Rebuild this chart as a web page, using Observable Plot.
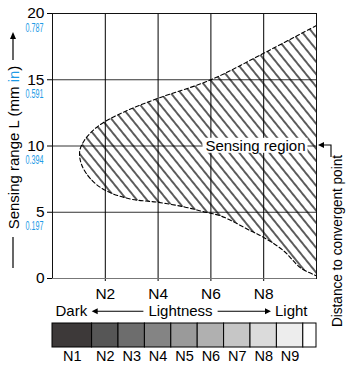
<!DOCTYPE html>
<html>
<head>
<meta charset="utf-8">
<script src="https://cdn.jsdelivr.net/npm/d3@7"></script>
<script src="https://cdn.jsdelivr.net/npm/@observablehq/plot@0.6"></script>
<style>
html, body { margin: 0; padding: 0; background: #fff; }
#chart { position: relative; width: 350px; height: 370px; }
#chart svg { position: absolute; left: 0; }
</style>
</head>
<body>
<div id="chart"></div>
<script>
// ---- data ----
const nLevels = [2, 4, 6, 8];                       // x tick values (Munsell N)
const mmTicks = [0, 5, 10, 15, 20];                  // y tick values (mm)
const inchLabels = ["", "0.197", "0.394", "0.591", "0.787"];
// boundary of the sensing region: upper edge from right to the nose, then lower edge to the right
const edgeN  = [10, 8, 6, 4, 2.85, 1.95, 1.55, 1.2, 1.03, 1.1, 1.45, 2.0, 2.95, 4.0, 5.0, 5.7, 6.4, 7.5, 8.0, 8.75, 9.4, 10];
const edgeMM = [19.1, 17.0, 15.0, 13.6, 12.7, 11.8, 11.2, 10.4, 9.6, 8.6, 7.5, 6.65, 6.0, 5.75, 5.4, 5.05, 4.7, 3.6, 3.1, 2.1, 0.8, 0.2];
// lightness swatches
const swatchNames  = ["N1", "N2", "N3", "N4", "N5", "N6", "N7", "N8", "N9", ""];
const swatchFrom   = [0, 1.5, 2.5, 3.5, 4.5, 5.5, 6.5, 7.5, 8.5, 9.5];
const swatchTo     = [1.5, 2.5, 3.5, 4.5, 5.5, 6.5, 7.5, 8.5, 9.5, 10];
const swatchColors = ["#3d3939", "#565656", "#6d6d6d", "#848484", "#9a9a9a", "#b0b0b0", "#c6c6c6", "#dbdbdb", "#ededed", "#ffffff"];

const region = edgeN.map((n, i) => ({n, mm: edgeMM[i]}));
const inchRows = mmTicks.map((mm, i) => ({mm, inch: inchLabels[i]})).filter(d => d.inch);
const swatches = swatchNames.map((name, i) => ({name, x1: swatchFrom[i], x2: swatchTo[i], color: swatchColors[i], mid: (swatchFrom[i] + swatchTo[i]) / 2}));
const gridMM = mmTicks.filter(t => t > 0 && t < 20);
const annotations = [{label: "Sensing region", mm: 10}];

const FONT = '"Liberation Sans", Arial, Helvetica, sans-serif';
const BLUE = "#1e9be6";

const main = Plot.plot({
  width: 350, height: 370,
  marginLeft: 52, marginRight: 34, marginTop: 13, marginBottom: 92,
  style: {fontFamily: FONT, fontSize: "15px", color: "#000", background: "transparent", overflow: "visible"},
  x: {domain: [0, 10], ticks: nLevels, tickFormat: d => "N" + d, tickSize: 3, tickPadding: 6, label: null},
  y: {domain: [0, 20], ticks: mmTicks, tickSize: 5, tickPadding: 3, label: null},
  marks: [
    Plot.ruleY(gridMM, {stroke: "#333"}),
    Plot.ruleX(nLevels, {stroke: "#000"}),
    Plot.line(region, {x: "n", y: "mm", curve: "catmull-rom", fill: "url(#hatch)", stroke: "none"}),
    Plot.line(region, {x: "n", y: "mm", curve: "catmull-rom", stroke: "#000", strokeWidth: 1.1, strokeDasharray: "4,2.5"}),
    Plot.frame({stroke: "#111"}),
    Plot.ruleY([0], {stroke: "#777"}),
    Plot.text(inchRows, {frameAnchor: "left", y: "mm", text: "inch", dx: -9, dy: 14, textAnchor: "end", lineAnchor: "middle", fill: BLUE, fontSize: 12.5}),
    Plot.text(annotations, {frameAnchor: "right", y: "mm", text: "label", dx: -11, textAnchor: "end", lineAnchor: "middle", fontSize: 15})
  ]
});

const bar = Plot.plot({
  width: 350, height: 70,
  marginLeft: 52, marginRight: 34, marginTop: 23, marginBottom: 23,
  style: {fontFamily: FONT, fontSize: "15px", color: "#000", background: "transparent", overflow: "visible"},
  x: {domain: [0, 10], axis: null},
  y: {domain: [0, 1], axis: null},
  color: {type: "identity"},
  marks: [
    Plot.rect(swatches, {x1: "x1", x2: "x2", y1: 0, y2: 1, fill: "color", stroke: "#000", strokeWidth: 1}),
    Plot.text(swatches.filter(d => d.name), {x: "mid", y: 0, text: "name", dy: 9, lineAnchor: "middle", fontSize: 14.5}),
    Plot.text(["Dark"], {frameAnchor: "top-left", text: d => d, textAnchor: "start", lineAnchor: "middle", dx: 3, dy: -12, fontSize: 15}),
    Plot.text(["Lightness"], {frameAnchor: "top", text: d => d, lineAnchor: "middle", dx: -4, dy: -12, fontSize: 15}),
    Plot.text(["Light"], {frameAnchor: "top-right", text: d => d, textAnchor: "end", lineAnchor: "middle", dx: -9, dy: -12, fontSize: 15})
  ]
});

const root = document.getElementById("chart");
root.append(main);
root.append(bar);
main.style.top = "0px";
bar.style.top = "300px";

const sm = d3.select(main);
// axis tick labels at the reference size
sm.selectAll('g[aria-label*="axis"]').attr("font-size", 15.5);
sm.selectAll('g[aria-label*="axis"] text').attr("font-size", 15.5);

// hatch pattern for the sensing region
const pat = sm.insert("defs", ":first-child").append("pattern")
  .attr("id", "hatch").attr("patternUnits", "userSpaceOnUse")
  .attr("width", 7.8).attr("height", 10).attr("patternTransform", "rotate(-39)");
pat.append("line").attr("x1", 3.9).attr("x2", 3.9).attr("y1", -1).attr("y2", 11)
  .attr("stroke", "#000").attr("stroke-width", 1.25);

function findText(svg, str) {
  return Array.from(svg.querySelectorAll("text")).find(t => t.textContent === str);
}
function rel(svg, el) {
  const a = svg.getBoundingClientRect(), b = el.getBoundingClientRect();
  return {x: b.left - a.left, y: b.top - a.top, w: b.width, h: b.height};
}

// condensed blue inch labels
sm.selectAll("text").filter(function () { return this.textContent && inchLabels.includes(this.textContent); })
  .attr("textLength", 18).attr("lengthAdjust", "spacingAndGlyphs");

// white box behind "Sensing region"
const lab = findText(main, "Sensing region");
if (lab) {
  const bb = rel(main, lab);
  const g = lab.parentNode;
  const r = document.createElementNS("http://www.w3.org/2000/svg", "rect");
  r.setAttribute("x", bb.x - 3);
  r.setAttribute("width", bb.w + 5);
  r.setAttribute("y", bb.y + bb.h / 2 - 7.5);
  r.setAttribute("height", 15);
  r.setAttribute("fill", "#fff");
  g.parentNode.insertBefore(r, g);
}

function arrowHead(sel, tipX, tipY, dir) {
  let pts;
  if (dir === "left") pts = [[tipX, tipY], [tipX + 6, tipY - 3], [tipX + 6, tipY + 3]];
  else if (dir === "right") pts = [[tipX, tipY], [tipX - 6, tipY - 3], [tipX - 6, tipY + 3]];
  else pts = [[tipX, tipY], [tipX - 3, tipY + 7], [tipX + 3, tipY + 7]];
  sel.append("path").attr("d", "M" + pts.map(p => p.join(",")).join("L") + "Z").attr("fill", "#000");
}

// left axis title with arrow
const ann = sm.append("g");
const yt = ann.append("text")
  .attr("transform", "translate(18.5,147.5) rotate(-90)")
  .attr("text-anchor", "middle").attr("font-size", 15).attr("font-family", FONT).attr("fill", "#000");
yt.append("tspan").text("Sensing range L (mm ");
yt.append("tspan").attr("fill", BLUE).text("in");
yt.append("tspan").text(")");
ann.append("line").attr("x1", 13).attr("x2", 13).attr("y1", 60).attr("y2", 37).attr("stroke", "#000").attr("stroke-width", 1.2);
arrowHead(ann, 13, 32, "up");
ann.append("line").attr("x1", 13).attr("x2", 13).attr("y1", 237).attr("y2", 268).attr("stroke", "#000").attr("stroke-width", 1.2);

// right rotated label with bracket arrow
ann.append("text")
  .attr("transform", "translate(341.5,241) rotate(-90)")
  .attr("text-anchor", "middle").attr("font-size", 14.5).attr("font-family", FONT).attr("fill", "#000")
  .attr("textLength", 172).attr("lengthAdjust", "spacingAndGlyphs")
  .text("Distance to convergent point");
ann.append("path").attr("d", "M331,157V145H323").attr("fill", "none").attr("stroke", "#000").attr("stroke-width", 1.1);
arrowHead(ann, 318, 145, "left");

// Dark <--- Lightness ---> Light arrows
const sb = d3.select(bar);
const tDark = findText(bar, "Dark"), tLight = findText(bar, "Lightness"), tLt = findText(bar, "Light");
if (tDark && tLight && tLt) {
  const a = rel(bar, tDark), b = rel(bar, tLight), c = rel(bar, tLt);
  const cy = a.y + a.h / 2 + 0.5;
  const ga = sb.append("g");
  ga.append("line").attr("x1", a.x + a.w + 9).attr("x2", b.x - 5).attr("y1", cy).attr("y2", cy).attr("stroke", "#000").attr("stroke-width", 1.1);
  arrowHead(ga, a.x + a.w + 4, cy, "left");
  ga.append("line").attr("x1", b.x + b.w + 5).attr("x2", c.x - 9).attr("y1", cy).attr("y2", cy).attr("stroke", "#000").attr("stroke-width", 1.1);
  arrowHead(ga, c.x - 4, cy, "right");
}
</script>
</body>
</html>
